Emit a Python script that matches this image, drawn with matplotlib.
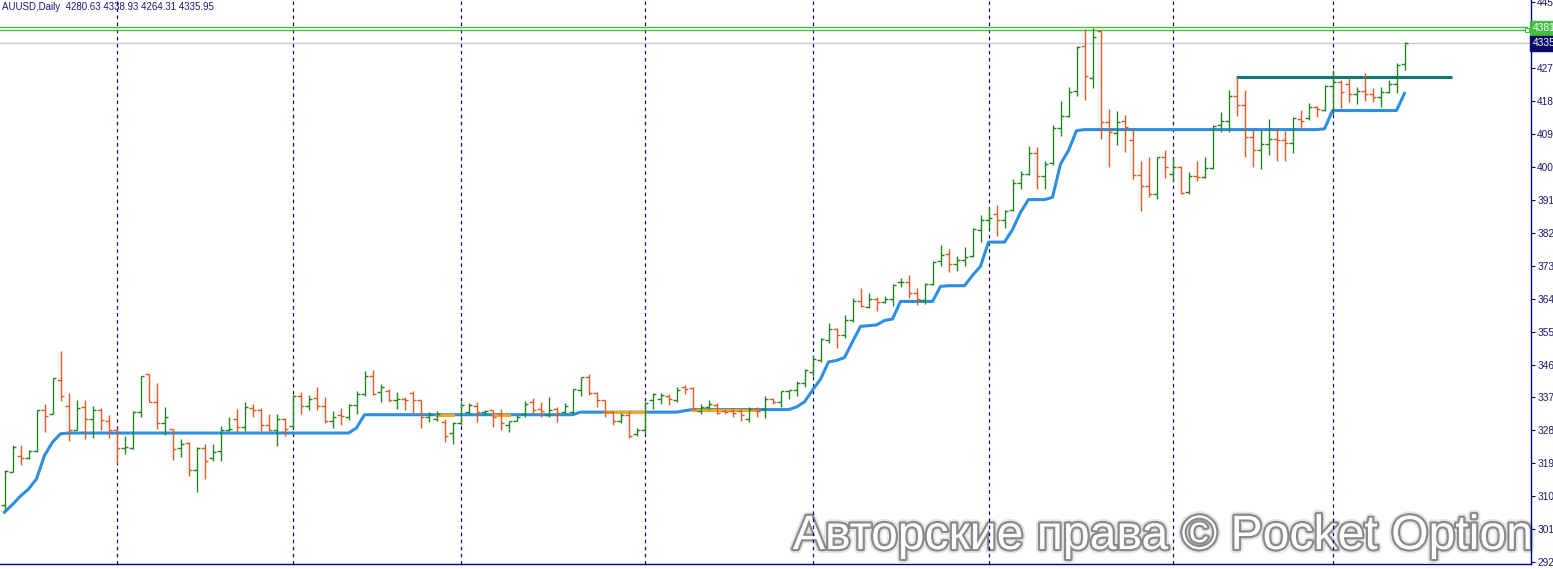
import matplotlib
matplotlib.use("Agg")
import matplotlib.pyplot as plt
import matplotlib.patheffects as pe
from matplotlib.transforms import blended_transform_factory
import numpy as np

# ---------------- data ----------------
symbol = "AUUSD,Daily"
last_ohlc = [4280.63, 4338.93, 4264.31, 4335.95]

opens = [3078, 3168, 3210, 3205, 3223, 3337, 3325, 3418, 3347, 3282,
         3345, 3312, 3336, 3307, 3282, 3233, 3233, 3330, 3433, 3359,
         3300, 3283, 3233, 3245, 3171, 3233, 3205, 3223, 3282, 3312,
         3289, 3342, 3335, 3294, 3280, 3312, 3292, 3375, 3348, 3368,
         3348, 3305, 3321, 3316, 3350, 3380, 3428, 3385, 3387, 3364,
         3366, 3383, 3362, 3318, 3312, 3303, 3273, 3300, 3330, 3348,
         3330, 3335, 3325, 3294, 3307, 3325, 3357, 3339, 3321, 3339,
         3330, 3330, 3391, 3425, 3382, 3362, 3330, 3307, 3321, 3271,
         3280, 3364, 3366, 3375, 3364, 3398, 3396, 3334, 3344, 3350,
         3334, 3332, 3332, 3312, 3339, 3339, 3366, 3357, 3389, 3391,
         3409, 3439, 3471, 3528, 3557, 3541, 3582, 3634, 3618, 3639,
         3630, 3639, 3684, 3686, 3654, 3637, 3680, 3742, 3762, 3733,
         3745, 3757, 3828, 3855, 3871, 3853, 3882, 3955, 3980, 4037,
         3973, 4009, 4105, 4137, 4205, 4330, 4242, 4370, 4123, 4092,
         4125, 4073, 3977, 3948, 3925, 4025, 3980, 3998, 3930, 3973,
         3971, 3996, 4114, 4125, 4194, 4168, 4082, 4044, 4062, 4075,
         4073, 4064, 4130, 4133, 4162, 4155, 4221, 4230, 4225, 4198,
         4207, 4198, 4189, 4203, 4225, 4280.63]
highs = [3171, 3239, 3239, 3227, 3337, 3351, 3424, 3496, 3382, 3362,
         3364, 3348, 3342, 3321, 3283, 3264, 3332, 3430, 3433, 3409,
         3344, 3285, 3257, 3248, 3235, 3244, 3244, 3291, 3318, 3339,
         3359, 3351, 3342, 3325, 3325, 3315, 3378, 3386, 3377, 3398,
         3371, 3332, 3342, 3353, 3389, 3442, 3446, 3407, 3394, 3385,
         3371, 3389, 3364, 3330, 3332, 3312, 3303, 3357, 3355, 3357,
         3336, 3336, 3339, 3307, 3321, 3360, 3369, 3359, 3371, 3345,
         3355, 3394, 3427, 3433, 3385, 3364, 3332, 3327, 3333, 3287,
         3357, 3382, 3382, 3380, 3398, 3403, 3398, 3353, 3362, 3354,
         3339, 3341, 3339, 3344, 3345, 3373, 3369, 3389, 3391, 3415,
         3448, 3485, 3532, 3574, 3559, 3595, 3642, 3669, 3654, 3645,
         3648, 3680, 3696, 3703, 3668, 3682, 3742, 3787, 3775, 3757,
         3780, 3832, 3868, 3891, 3894, 3882, 3965, 3989, 4057, 4054,
         4016, 4114, 4178, 4216, 4330, 4375, 4378, 4371, 4157, 4153,
         4141, 4105, 4016, 4027, 4027, 4044, 4027, 4003, 3984, 4016,
         4025, 4114, 4148, 4210, 4244, 4209, 4100, 4101, 4130, 4105,
         4098, 4136, 4155, 4173, 4166, 4224, 4264, 4235, 4241, 4216,
         4255, 4215, 4218, 4236, 4282, 4338.93]
lows = [3062, 3166, 3185, 3203, 3221, 3275, 3324, 3360, 3251, 3280,
        3257, 3260, 3280, 3259, 3192, 3216, 3230, 3316, 3357, 3283,
        3269, 3200, 3207, 3157, 3112, 3148, 3198, 3196, 3278, 3275,
        3278, 3318, 3278, 3278, 3237, 3264, 3289, 3325, 3335, 3335,
        3300, 3287, 3294, 3309, 3325, 3375, 3377, 3357, 3357, 3339,
        3335, 3325, 3287, 3303, 3305, 3248, 3242, 3294, 3325, 3303,
        3321, 3289, 3280, 3275, 3305, 3316, 3321, 3316, 3316, 3303,
        3324, 3324, 3375, 3377, 3345, 3318, 3294, 3300, 3260, 3266,
        3273, 3339, 3353, 3350, 3357, 3380, 3336, 3325, 3339, 3324,
        3324, 3318, 3307, 3303, 3316, 3314, 3353, 3344, 3366, 3375,
        3398, 3430, 3466, 3518, 3505, 3532, 3575, 3618, 3614, 3605,
        3627, 3621, 3671, 3641, 3623, 3625, 3677, 3730, 3712, 3716,
        3730, 3754, 3794, 3830, 3812, 3833, 3878, 3939, 3978, 3939,
        3939, 4005, 4084, 4135, 4193, 4182, 4214, 4075, 3998, 4060,
        4039, 3966, 3880, 3916, 3912, 3969, 3957, 3925, 3925, 3960,
        3969, 3994, 4094, 4094, 4139, 4027, 4000, 3994, 4033, 4016,
        4016, 4036, 4103, 4127, 4136, 4151, 4144, 4160, 4175, 4171,
        4180, 4175, 4164, 4200, 4200, 4264.31]
closes = [3169, 3235, 3205, 3225, 3336, 3320, 3423, 3374, 3282, 3342,
          3312, 3336, 3309, 3282, 3233, 3235, 3330, 3428, 3359, 3300,
          3316, 3230, 3244, 3171, 3233, 3198, 3221, 3282, 3283, 3289,
          3344, 3337, 3294, 3280, 3312, 3283, 3375, 3348, 3366, 3348,
          3305, 3316, 3319, 3350, 3380, 3428, 3380, 3398, 3364, 3366,
          3362, 3362, 3316, 3325, 3325, 3266, 3300, 3350, 3350, 3330,
          3332, 3318, 3300, 3305, 3316, 3353, 3335, 3332, 3337, 3327,
          3348, 3392, 3425, 3382, 3362, 3330, 3307, 3323, 3266, 3282,
          3355, 3380, 3377, 3366, 3391, 3394, 3339, 3344, 3353, 3327,
          3330, 3327, 3321, 3339, 3332, 3366, 3357, 3387, 3391, 3409,
          3444, 3476, 3530, 3557, 3541, 3582, 3634, 3621, 3639, 3630,
          3639, 3677, 3686, 3654, 3639, 3680, 3740, 3760, 3733, 3745,
          3754, 3830, 3855, 3860, 3853, 3880, 3956, 3980, 4037, 3973,
          4007, 4105, 4137, 4204, 4327, 4246, 4355, 4123, 4094, 4123,
          4107, 3977, 3948, 3925, 4025, 3998, 3998, 3928, 3973, 3971,
          3996, 4112, 4125, 4194, 4168, 4082, 4044, 4062, 4075, 4073,
          4064, 4133, 4125, 4162, 4157, 4221, 4230, 4203, 4198, 4205,
          4198, 4189, 4203, 4225, 4278, 4335.95]

trail = [3057, 3078, 3101, 3120, 3148, 3212, 3248, 3271, 3273, 3273,
         3273, 3273, 3273, 3273, 3273, 3273, 3273, 3273, 3273, 3273,
         3273, 3273, 3273, 3273, 3273, 3273, 3273, 3273, 3273, 3273,
         3273, 3273, 3273, 3273, 3273, 3273, 3273, 3273, 3273, 3273,
         3273, 3273, 3273, 3273, 3287, 3323, 3323, 3323, 3323, 3323,
         3323, 3323, 3323, 3323, 3323, 3323, 3323, 3323, 3323, 3323,
         3323, 3323, 3323, 3323, 3323, 3323, 3323, 3323, 3323, 3323,
         3323, 3323, 3330, 3330, 3330, 3330, 3330, 3330, 3330, 3330,
         3330, 3330, 3330, 3330, 3330, 3334, 3337, 3337, 3337, 3337,
         3337, 3337, 3337, 3337, 3337, 3337, 3337, 3337, 3337, 3344,
         3358, 3390, 3420, 3467, 3471, 3479, 3522, 3564, 3566, 3568,
         3580, 3584, 3632, 3632, 3632, 3632, 3632, 3673, 3675, 3675,
         3675, 3703, 3728, 3794, 3794, 3794, 3828, 3875, 3910, 3910,
         3910, 3916, 4007, 4044, 4098, 4101, 4101, 4101, 4101, 4101,
         4101, 4101, 4101, 4101, 4101, 4101, 4101, 4101, 4101, 4101,
         4101, 4101, 4101, 4101, 4101, 4101, 4101, 4101, 4101, 4101,
         4101, 4101, 4101, 4101, 4101, 4103, 4153, 4153, 4153, 4153,
         4153, 4153, 4153, 4153, 4153, 4200]

signal_spans = [(55, 57), (62, 64), (76, 81), (87, 95)]   # 1-based bar numbers
separators = [15, 37, 58, 81, 102, 124, 147, 167]         # 1-based bar numbers
price_ticks = [2920, 3010, 3100, 3190, 3280, 3370, 3460, 3550, 3640,
               3730, 3820, 3910, 4000, 4090, 4180, 4270, 4360, 4450]
level_lines = [4381.8, 4372.7]
bid_price = 4335.95
resistance_price = 4243.5
resistance_from, resistance_to = 155, 182
watermark = "Авторские права © Pocket Option"

# ---------------- style ----------------
UP = "#228522"
DOWN = "#e55a1f"
BLUE = "#2e8fe0"
SIG = "#f5a623"
TEAL = "#0e7a70"
NAVY = "#000080"
LEVEL = "#43bf43"
HALF = 0.0625      # half a pixel in bar units (8 px per bar)

W, H = 1553, 569
fig = plt.figure(figsize=(W / 100, H / 100), dpi=100)
fig.patch.set_facecolor("white")
ax = fig.add_axes([0, (H - 564) / H, 1531 / W, 564 / H])
ax.set_xlim(-0.5, 190.875)
ax.set_ylim(2919.2 - 1.3 * 2.727, 4454.6)

n = len(opens)
x = np.arange(n) + HALF
o = np.array(opens, float); h = np.array(highs, float)
l = np.array(lows, float); c = np.array(closes, float)
cols = np.where(c >= o, UP, DOWN)

# watermark (behind everything)
wm = ax.text(1533 / W, 1 - 549 / H, watermark, transform=fig.transFigure,
             ha="right", va="baseline", fontsize=34, color="white",
             family="Liberation Sans", zorder=0.5, clip_on=False,
             path_effects=[pe.Stroke(linewidth=6, foreground="#e6e6e6"),
                           pe.Stroke(linewidth=3.2, foreground="#8a8a8a"),
                           pe.Normal()])
r = fig.canvas.get_renderer()
bb = wm.get_window_extent(r)
wm.set_fontsize(34 * 740 / bb.width)

# separators
for s in separators:
    ax.axvline(s - 1 + HALF, color=NAVY, lw=0.85, linestyle=(0, (3, 3)), zorder=1)

# horizontal levels
for lv in level_lines:
    ax.plot([-0.5, 190.4], [lv, lv], color=LEVEL, lw=1.0, zorder=2)
ax.plot([190.4], [level_lines[1]], marker="s", ms=3, mfc="white", mec=LEVEL, mew=0.8, zorder=2)
ax.axhline(bid_price, color="#cfcfcf", lw=1.0, zorder=1.5)

# trailing line
ax.plot(x, trail, color=BLUE, lw=2.2, zorder=3, solid_joinstyle="round")
tr = np.array(trail, float)
for a, b in signal_spans:
    ax.plot(x[a - 1:b], tr[a - 1:b], color=SIG, lw=2.2, zorder=3.1)

# resistance
ax.plot([resistance_from - 1, resistance_to - 1], [resistance_price] * 2,
        color=TEAL, lw=2.2, zorder=3.2, solid_capstyle="butt")

# OHLC bars
ax.vlines(x, l, h, colors=cols, lw=1.0, zorder=4)
ax.hlines(o, x - 0.42, x, colors=cols, lw=1.0, zorder=4)
ax.hlines(c, x, x + 0.42, colors=cols, lw=1.0, zorder=4)

# axes cosmetics
for side in ("top", "left"):
    ax.spines[side].set_visible(False)
for side in ("right", "bottom"):
    ax.spines[side].set_color(NAVY)
    ax.spines[side].set_linewidth(1.0)
ax.set_xticks([])
ax.yaxis.tick_right()
ax.set_yticks(price_ticks)
ax.set_yticklabels([f"{v:.2f}" for v in price_ticks])
ax.tick_params(axis="y", direction="out", length=3, width=0.8, color=NAVY,
               labelcolor="#1a1a6e", labelsize=7.3, pad=1.5)
for t in ax.get_yticklabels():
    t.set_family("Liberation Sans")

# price boxes at right
trans = blended_transform_factory(ax.transAxes, ax.transData)
ax.text(1.001, level_lines[0] - 4, f"{level_lines[0]:.2f}", transform=trans,
        ha="left", va="center", fontsize=7.3, color="white", family="Liberation Sans",
        bbox=dict(boxstyle="square,pad=0.25", fc=LEVEL, ec=LEVEL), clip_on=False, zorder=6)
ax.text(1.001, bid_price, f"{bid_price:.2f}", transform=trans,
        ha="left", va="center", fontsize=7.3, color="white", family="Liberation Sans",
        bbox=dict(boxstyle="square,pad=0.25", fc="#08086a", ec="#08086a"), clip_on=False, zorder=6)

# header
hdr = f"{symbol}  " + " ".join(f"{v:.2f}" for v in last_ohlc)
ax.text(2 / W, 1 - 2 / H, hdr, transform=fig.transFigure, ha="left", va="top",
        fontsize=7, color="#1a1a7a", family="Liberation Sans", zorder=7)

fig.savefig("out.png", dpi=100, facecolor="white")
